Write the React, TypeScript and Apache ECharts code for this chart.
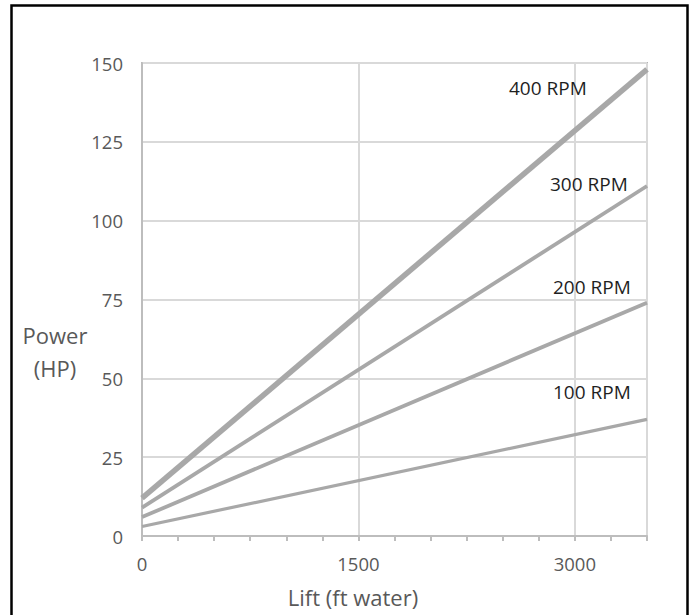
import React, { useEffect, useRef } from "react";
import * as echarts from "echarts";

// ---- data ----
const lift = [0, 3500];
const rpmNames = ["100 RPM", "200 RPM", "300 RPM", "400 RPM"];
const power100 = [3, 37];
const power200 = [6, 74];
const power300 = [9, 111];
const power400 = [12, 148];
const powerSeries = [power100, power200, power300, power400];
const xLabelStep = 1500;
const xMinorStep = 250;
const yStep = 25;
const xTitle = "Lift (ft water)";
const yTitle = ["Power", "(HP)"];

const FONT = "'Open Sans', 'Noto Sans', sans-serif";
const LINE_COLOR = "#a8a8a8";
const lineWidths = [3.2, 3.8, 3.8, 5.5];
// label placement (left x, center y) in pixels
const labelPos: [number, number][] = [
  [553, 392],
  [553, 287],
  [550, 184],
  [509, 88],
];

export default function App() {
  const ref = useRef<HTMLDivElement>(null);
  useEffect(() => {
    if (!ref.current) return;
    const chart = echarts.init(ref.current, undefined, { renderer: "svg" });
    const series: any[] = powerSeries.map((vals, i) => ({
      type: "line",
      name: rpmNames[i],
      data: lift.map((x, j) => [x, vals[j]]),
      symbol: "none",
      lineStyle: { color: LINE_COLOR, width: lineWidths[i] },
      z: 3,
    }));
    chart.setOption({
      animation: false,
      backgroundColor: "#ffffff",
      grid: {
        left: 142,
        top: 63,
        right: 45,
        bottom: 79,
        show: true,
        borderColor: "#b5b5b5",
        borderWidth: 2,
      },
      xAxis: [
        {
          type: "value",
          min: 0,
          max: 3500,
          interval: xMinorStep,
          axisLine: { show: true, lineStyle: { color: "#bdbdbd", width: 2 } },
          axisTick: { show: true, length: 5, lineStyle: { color: "#bdbdbd", width: 2 } },
          splitLine: { show: false },
          axisLabel: {
            color: "#595959",
            fontSize: 18.5,
            fontFamily: FONT,
            margin: 18,
            formatter: (v: number) => (v % xLabelStep === 0 ? String(v) : ""),
          },
        },
        {
          type: "value",
          min: 0,
          max: 3500,
          interval: xLabelStep,
          position: "top",
          axisLine: { show: false },
          axisTick: { show: false },
          axisLabel: { show: false },
          splitLine: { show: true, lineStyle: { color: "#d9d9d9", width: 2 } },
        },
      ],
      yAxis: {
        type: "value",
        min: 0,
        max: 150,
        interval: yStep,
        axisLine: { show: true, lineStyle: { color: "#bdbdbd", width: 2 } },
        axisTick: { show: false },
        splitLine: { show: true, lineStyle: { color: "#d9d9d9", width: 2 } },
        axisLabel: {
          color: "#595959",
          fontSize: 18.5,
          fontFamily: FONT,
          margin: 19,
        },
      },
      series,
      graphic: [
        {
          type: "rect",
          shape: { x: 11.5, y: 5.5, width: 676, height: 640 },
          style: { fill: "none", stroke: "#000000", lineWidth: 2.5 },
          silent: true,
        },
        ...rpmNames.map((name, i) => ({
          type: "text",
          x: labelPos[i][0],
          y: labelPos[i][1],
          style: {
            text: name,
            fill: "#1f1f1f",
            font: `19px ${FONT}`,
            textAlign: "left",
            textVerticalAlign: "middle",
          },
          z: 10,
        })),
        {
          type: "text",
          x: 353,
          y: 597,
          style: {
            text: xTitle,
            fill: "#595959",
            font: `22px ${FONT}`,
            textAlign: "center",
            textVerticalAlign: "middle",
          },
        },
        {
          type: "text",
          x: 55,
          y: 335,
          style: {
            text: yTitle[0],
            fill: "#595959",
            font: `22px ${FONT}`,
            textAlign: "center",
            textVerticalAlign: "middle",
          },
        },
        {
          type: "text",
          x: 55,
          y: 368,
          style: {
            text: yTitle[1],
            fill: "#595959",
            font: `22px ${FONT}`,
            textAlign: "center",
            textVerticalAlign: "middle",
          },
        },
      ],
    });
    return () => chart.dispose();
  }, []);
  return (
    <div
      ref={ref}
      style={{ position: "absolute", left: 0, top: 0, width: 692, height: 615 }}
    />
  );
}
